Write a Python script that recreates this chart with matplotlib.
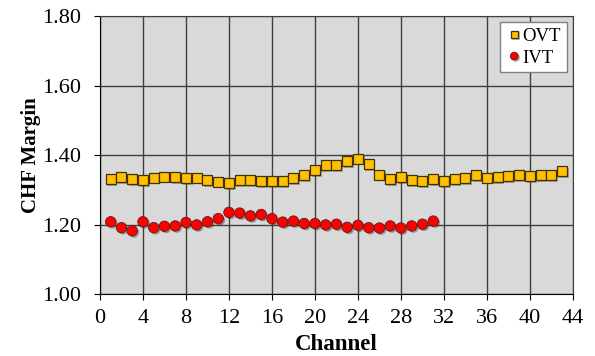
import matplotlib.pyplot as plt
import matplotlib.patheffects as pe

channels_ovt = list(range(1, 44))
ovt = [1.331, 1.337, 1.331, 1.327, 1.335, 1.338, 1.336, 1.333, 1.335, 1.327,
       1.323, 1.320, 1.328, 1.328, 1.324, 1.325, 1.325, 1.333, 1.342, 1.356,
       1.371, 1.371, 1.382, 1.390, 1.373, 1.344, 1.331, 1.336, 1.327, 1.325,
       1.331, 1.325, 1.330, 1.333, 1.343, 1.335, 1.336, 1.340, 1.342, 1.340,
       1.342, 1.342, 1.354]

channels_ivt = list(range(1, 32))
ivt = [1.208, 1.191, 1.182, 1.208, 1.191, 1.195, 1.196, 1.206, 1.199, 1.208,
       1.217, 1.235, 1.233, 1.225, 1.229, 1.217, 1.207, 1.210, 1.203, 1.203,
       1.199, 1.201, 1.192, 1.198, 1.191, 1.190, 1.196, 1.190, 1.196, 1.201,
       1.210]

xticks = list(range(0, 45, 4))
yticks = [1.00, 1.20, 1.40, 1.60, 1.80]

plt.rcParams['font.family'] = ['Liberation Serif', 'DejaVu Serif']

fig = plt.figure(figsize=(5.95, 3.56), dpi=100)
ax = fig.add_axes([0.168, 0.174, 0.795, 0.781])
ax.set_facecolor('#d9d9d9')

shadow = [pe.SimplePatchShadow(offset=(1.2, -1.2), alpha=0.35), pe.Normal()]
ax.plot(channels_ovt, ovt, linestyle='none', marker='s', markersize=7.2,
        markerfacecolor='#ffc000', markeredgecolor='#403010', markeredgewidth=0.9,
        label='OVT', path_effects=shadow, zorder=3)
ax.plot(channels_ivt, ivt, linestyle='none', marker='o', markersize=7.5,
        markerfacecolor='#ff0000', markeredgecolor='#502020', markeredgewidth=0.6,
        label='IVT', path_effects=shadow, zorder=3)

ax.set_xlim(0, 44)
ax.set_ylim(1.0, 1.8)
ax.set_xticks(xticks)
ax.set_yticks(yticks)
ax.set_yticklabels(['%.2f' % v for v in yticks])
ax.grid(True, color='#404040', linewidth=1.0)
ax.set_axisbelow(True)
ax.tick_params(axis='both', labelsize=16, direction='out', length=4.5, color='black')
ax.tick_params(axis='y', pad=9)
ax.tick_params(axis='x', pad=6)
ax.spines[['top', 'right']].set_color('#404040')
ax.spines[['left', 'bottom']].set_color('black')

ax.set_xlabel('Channel', fontsize=16.5, fontweight='bold', va='top')
ax.xaxis.set_label_coords(0.5, -0.145)
ax.set_ylabel('CHF Margin', fontsize=15, fontweight='bold')
ax.yaxis.set_label_coords(-0.125, 0.5)

leg = ax.legend(loc='upper right', fontsize=13.5, frameon=True, fancybox=False,
                handletextpad=0.0, handlelength=0.9, borderpad=0.3,
                labelspacing=0.25, markerscale=0.75, borderaxespad=0,
                bbox_to_anchor=(0.987, 0.978))
leg.get_frame().set_edgecolor('#808080')
leg.get_frame().set_facecolor('white')
leg.get_frame().set_alpha(1)

fig.savefig('out.png', dpi=100)
